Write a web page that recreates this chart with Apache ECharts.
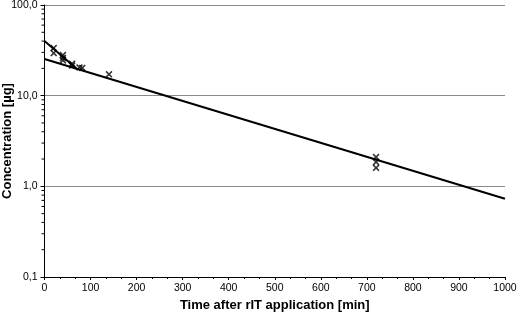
<!DOCTYPE html>
<html><head><meta charset="utf-8">
<script src="https://cdn.jsdelivr.net/npm/echarts@6/dist/echarts.min.js"></script>
<style>html,body{margin:0;padding:0;background:#fff}#c{width:520px;height:317px}</style>
</head><body><div id="c"></div>
<script>
// Measured data (time [min], concentration [µg])
const sampleTimes = [20, 20, 40, 40, 40, 60, 60, 76, 82, 140, 720, 720, 720];
const sampleConc  = [33.5, 29.5, 28, 26, 24.5, 22.5, 21.5, 20.5, 20.2, 17.2, 2.1, 1.85, 1.6];
// Terminal (elimination) fit line endpoints
const fitTimes = [0, 1000];
const fitConc  = [25.4, 0.73];
// Initial (distribution) phase line endpoints
const initTimes = [0, 70];
const initConc  = [40, 19.8];
// Axis ticks
const yTickLabels = {0.1: '0,1', 1: '1,0', 10: '10,0', 100: '100,0'};
const decades = [0.1, 1, 10];
const minorMultipliers = [2, 3, 4, 5, 6, 7, 8, 9];

const minorTicks = [];
decades.forEach(d => minorMultipliers.forEach(m => minorTicks.push([0, d * m])));

const pts = sampleTimes.map((t, i) => [t, sampleConc[i]]);
const fit = fitTimes.map((t, i) => [t, fitConc[i]]);
const init = initTimes.map((t, i) => [t, initConc[i]]);

const font = '"Liberation Sans", Arial, sans-serif';
const chart = echarts.init(document.getElementById('c'), null, {renderer: 'canvas'});
chart.setOption({
  animation: false,
  backgroundColor: '#fff',
  grid: {left: 44.5, right: 15, top: 5, bottom: 40, containLabel: false, outerBoundsMode: 'none'},
  xAxis: {
    type: 'value', min: 0, max: 1000, interval: 100,
    name: 'Time after rIT application [min]', nameLocation: 'middle', nameGap: 21,
    nameTextStyle: {fontFamily: font, fontWeight: 'bold', fontSize: 13, color: '#000'},
    axisLine: {show: true, onZero: false, lineStyle: {color: '#000', width: 1}},
    axisTick: {show: true, length: 3, lineStyle: {color: '#000'}},
    minorTick: {show: true, splitNumber: 3, length: 2, lineStyle: {color: '#000'}},
    axisLabel: {fontFamily: font, fontSize: 10.5, color: '#000', margin: 6, formatter: v => String(v)},
    splitLine: {show: false}
  },
  yAxis: {
    type: 'log', logBase: 10, min: 0.1, max: 100,
    name: 'Concentration [µg]', nameLocation: 'middle', nameGap: 31, nameMoveOverlap: false,
    nameTextStyle: {fontFamily: font, fontWeight: 'bold', fontSize: 13, color: '#000'},
    axisLine: {show: true, lineStyle: {color: '#000', width: 1}},
    axisTick: {show: true, length: 4, lineStyle: {color: '#000'}},
    axisLabel: {fontFamily: font, fontSize: 10.5, color: '#000', margin: 7,
      formatter: v => yTickLabels[+v.toPrecision(3)] || ''},
    splitLine: {show: true, lineStyle: {color: '#8a8a8a', width: 1}}
  },
  series: [
    {
      type: 'custom', silent: true, clip: false, z: 5,
      renderItem: (params, api) => {
        const p = api.coord([api.value(0), api.value(1)]);
        return {type: 'line', shape: {x1: p[0] - 3, y1: p[1], x2: p[0], y2: p[1]},
          style: {stroke: '#000', lineWidth: 1}};
      },
      data: minorTicks
    },
    {type: 'line', data: fit, symbol: 'none', lineStyle: {color: '#000', width: 2}, z: 3},
    {type: 'line', data: init, symbol: 'none', lineStyle: {color: '#000', width: 2}, z: 3},
    {type: 'scatter', data: pts, z: 4,
      symbol: 'path://M0,1.6L1.6,0L5,3.4L8.4,0L10,1.6L6.6,5L10,8.4L8.4,10L5,6.6L1.6,10L0,8.4L3.4,5Z',
      symbolSize: [7, 7], itemStyle: {color: '#000'}}
  ]
});
</script></body></html>
